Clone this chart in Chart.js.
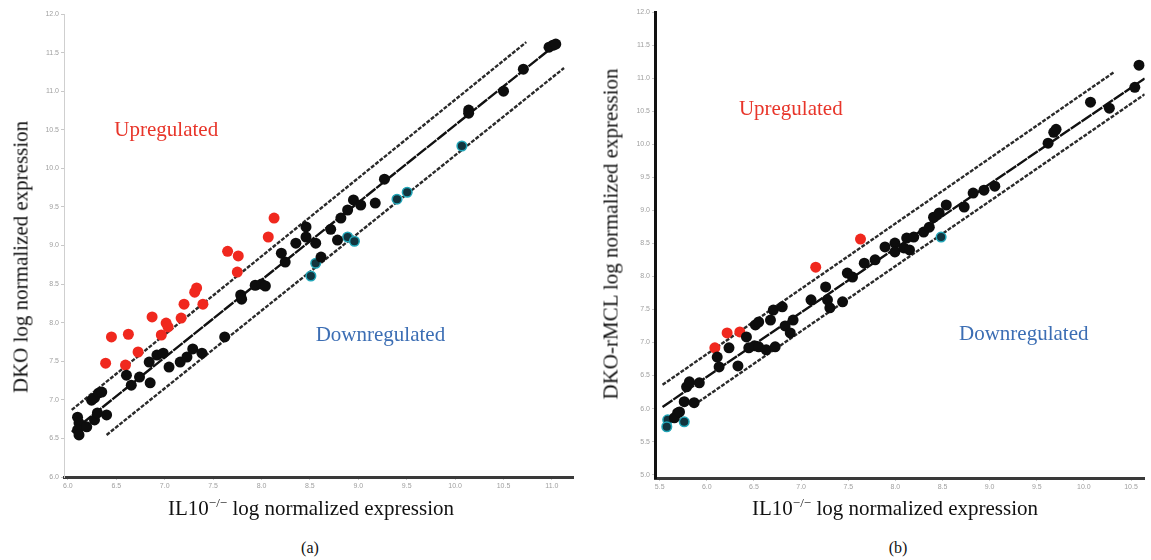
<!DOCTYPE html>
<html>
<head>
<meta charset="utf-8">
<script src="https://cdn.jsdelivr.net/npm/chart.js@4.4.0/dist/chart.umd.min.js"></script>
<style>
  html, body { margin: 0; padding: 0; background: #fff; }
  #wrap { position: relative; width: 1151px; height: 560px; overflow: hidden;
          font-family: "Liberation Serif", "DejaVu Serif", serif; color: #111; }
  canvas { position: absolute; top: 0; }
  .lbl { position: absolute; white-space: nowrap; font-size: 21px; transform: translate(-50%, -50%); }
  .ylbl { transform: translate(-50%, -50%) rotate(-90deg); }
  .cap { font-size: 16px; }
  sup { font-size: 13px; line-height: 0; }
</style>
</head>
<body>
<div id="wrap">
  <canvas id="chartA" width="580" height="500" style="left:0"></canvas>
  <canvas id="chartB" width="571" height="500" style="left:580px"></canvas>

  <div class="lbl ylbl" style="left:21px; top:257px">DKO log normalized expression</div>
  <div class="lbl" style="left:311px; top:508px">IL10<sup>−/−</sup> log normalized expression</div>
  <div class="lbl cap" style="left:310px; top:548px">(a)</div>

  <div class="lbl ylbl" style="left:611px; top:234px">DKO-rMCL log normalized expression</div>
  <div class="lbl" style="left:895px; top:508px">IL10<sup>−/−</sup> log normalized expression</div>
  <div class="lbl cap" style="left:898px; top:548px">(b)</div>
</div>

<script>
// ---------- panel (a) ----------
const xTicksA = ["6.0", "6.5", "7.0", "7.5", "8.0", "8.5", "9.0", "9.5", "10.0", "10.5", "11.0"];
const yTicksA = ["6.0", "6.5", "7.0", "7.5", "8.0", "8.5", "9.0", "9.5", "10.0", "10.5", "11.0", "11.5", "12.0"];

const upA = [
  [4.26, 6.71], [4.14, 6.22], [3.30, 5.85], [3.52, 5.73], [3.50, 5.31],
  [2.66, 4.90], [2.62, 4.79], [2.40, 4.48], [2.79, 4.48], [1.74, 4.15],
  [2.34, 4.12], [2.03, 3.99], [2.07, 3.89], [1.93, 3.68], [0.90, 3.63],
  [1.25, 3.70], [1.45, 3.24], [0.78, 2.95], [1.19, 2.90]
];
const downA = [
  [5.12, 5.54], [5.02, 5.21], [5.78, 6.22], [5.92, 6.11],
  [6.80, 7.20], [7.01, 7.38], [8.14, 8.58]
];
const sameA = [
  [0.20, 1.55], [0.23, 1.40], [0.20, 1.22], [0.23, 1.09], [0.39, 1.30],
  [0.55, 1.48], [0.61, 1.66], [0.80, 1.61], [0.49, 1.99], [0.55, 2.05],
  [0.64, 2.18], [0.70, 2.20], [1.21, 2.64], [1.31, 2.38], [1.48, 2.59],
  [1.70, 2.44], [1.68, 2.98], [1.84, 3.16], [1.97, 3.21], [2.09, 2.85],
  [2.32, 2.98], [2.46, 3.11], [2.58, 3.32], [2.77, 3.21], [3.24, 3.63],
  [3.57, 4.72], [3.59, 4.61], [3.87, 4.97], [4.00, 5.00], [4.08, 4.95],
  [4.49, 5.57], [4.41, 5.80], [4.71, 6.06], [4.92, 6.22], [4.92, 6.48],
  [5.12, 6.06], [5.23, 5.70], [5.43, 6.42], [5.64, 6.71], [5.78, 6.92],
  [5.90, 7.18], [6.05, 7.05], [6.35, 7.10], [6.54, 7.72], [5.57, 6.14],
  [8.28, 9.51], [8.28, 9.43], [9.00, 10.00], [9.41, 10.57],
  [10.02, 11.19], [9.94, 11.14], [10.08, 11.22]
];
const upperLineA = [[0.08, 1.74], [9.47, 11.27]];
const middleLineA = [[0.08, 1.17], [10.14, 11.27]];
const lowerLineA = [[0.80, 1.09], [10.25, 10.60]];

// ---------- panel (b) ----------
const xTicksB = ["5.5", "6.0", "6.5", "7.0", "7.5", "8.0", "8.5", "9.0", "9.5", "10.0", "10.5"];
const yTicksB = ["5.0", "5.5", "6.0", "6.5", "7.0", "7.5", "8.0", "8.5", "9.0", "9.5", "10.0", "10.5", "11.0", "11.5", "12.0"];

const upB = [[4.26, 7.13], [3.31, 6.28], [1.43, 4.29], [1.70, 4.32], [1.17, 3.84]];
const downB = [[0.17, 1.66], [0.15, 1.45], [0.52, 1.60], [5.97, 7.19]];
const sameB = [
  [0.38, 1.87], [0.31, 1.72], [0.42, 1.90], [0.52, 2.21], [0.73, 2.18],
  [0.57, 2.66], [0.63, 2.81], [0.84, 2.78], [1.22, 3.56], [1.26, 3.26],
  [1.47, 3.84], [1.66, 3.29], [1.84, 4.17], [1.89, 3.84], [2.01, 3.90],
  [2.10, 3.87], [2.26, 3.78], [2.03, 4.53], [2.10, 4.62], [2.35, 4.68],
  [2.41, 4.98], [2.60, 5.08], [2.45, 3.87], [2.66, 4.50], [2.77, 4.29],
  [2.83, 4.68], [3.21, 5.29], [3.52, 5.68], [3.56, 5.29], [3.61, 5.05],
  [3.88, 5.23], [3.98, 6.10], [4.09, 5.98], [4.34, 6.40], [4.57, 6.50],
  [4.78, 6.89], [4.99, 7.01], [4.99, 6.74], [5.18, 6.86], [5.24, 7.16],
  [5.30, 6.80], [5.39, 7.19], [5.60, 7.34], [5.72, 7.49], [5.81, 7.79],
  [5.93, 7.92], [6.08, 8.16], [6.46, 8.10], [6.65, 8.52], [6.88, 8.61],
  [7.11, 8.73], [8.24, 10.03], [8.36, 10.36], [8.41, 10.45], [9.14, 11.27],
  [9.54, 11.09], [10.17, 12.39], [10.08, 11.72]
];
const upperLineB = [[0.06, 2.72], [9.64, 12.18]];
const middleLineB = [[0.06, 2.05], [10.29, 11.99]];
const lowerLineB = [[0.73, 2.11], [10.29, 11.51]];

// text marks inside the plots, in data units
const notesA = [
  { text: "Upregulated", at: [0.96, 8.99], color: "#e8352a" },
  { text: "Downregulated", at: [5.12, 3.68], color: "#3c6eb4" }
];
const notesB = [
  { text: "Upregulated", at: [1.68, 11.06], color: "#e8352a" },
  { text: "Downregulated", at: [6.35, 4.23], color: "#3c6eb4" }
];

const toXY = arr => arr.map(p => ({ x: p[0], y: p[1] }));

const textMarks = {
  id: "textMarks",
  afterDatasetsDraw(chart, args, opts) {
    const { ctx, scales: { x, y } } = chart;
    ctx.save();
    ctx.font = '21px "Liberation Serif", "DejaVu Serif", serif';
    ctx.textBaseline = "middle";
    ctx.textAlign = "left";
    (opts.items || []).forEach(it => {
      ctx.fillStyle = it.color;
      ctx.fillText(it.text, x.getPixelForValue(it.at[0]), y.getPixelForValue(it.at[1]));
    });
    ctx.restore();
  }
};

function lineSet(pts, dash, color, w) {
  return {
    data: toXY(pts), showLine: true, pointRadius: 0,
    borderColor: color, borderWidth: w, borderDash: dash, order: 5
  };
}

function pointSet(pts, fill, edge, r) {
  return {
    data: toXY(pts), showLine: false, pointRadius: r, pointHoverRadius: r,
    backgroundColor: fill, borderColor: edge, borderWidth: edge ? 1.5 : 0, order: 1
  };
}

function makePanel(id, p) {
  new Chart(document.getElementById(id), {
    type: "scatter",
    data: {
      datasets: [
        lineSet(p.upper, [4, 1.5], "#2a2a2a", 2.4),
        lineSet(p.middle, [12, 1], "#111", 2.4),
        lineSet(p.lower, [4, 1.5], "#2a2a2a", 2.4),
        pointSet(p.same, "#0d0d0d", null, 5.5),
        pointSet(p.up, "#f0281e", null, 5.5),
        pointSet(p.down, "#12343e", "#22a6b8", 4.8)
      ]
    },
    options: {
      responsive: false,
      animation: false,
      devicePixelRatio: 1,
      layout: { padding: p.pad },
      plugins: {
        legend: { display: false },
        tooltip: { enabled: false },
        textMarks: { items: p.notes }
      },
      scales: {
        x: {
          type: "linear", min: p.xMin, max: p.xMax,
          afterFit(s) { s.height = 16; },
          afterBuildTicks(s) { s.ticks = p.xTicks.map((_, i) => ({ value: i })); },
          border: { display: true, color: "#3a3a3a", width: 3 },
          grid: { display: true, drawOnChartArea: false, tickLength: 3, color: "#c8c8c8" },
          ticks: {
            autoSkip: false, maxRotation: 0, padding: 2, color: "#a0a0a0", font: { size: 7 },
            callback: (v, i) => p.xTicks[i]
          }
        },
        y: {
          type: "linear", min: p.yMin, max: p.yMax,
          afterFit(s) { s.width = 20; },
          afterBuildTicks(s) { s.ticks = p.yTicks.map((_, i) => ({ value: i })); },
          border: { display: true, color: p.yAxisColor, width: p.yAxisWidth },
          grid: { display: true, drawOnChartArea: false, tickLength: 3, color: "#c8c8c8" },
          ticks: {
            autoSkip: false, padding: 2, color: "#a0a0a0", font: { size: 7 },
            callback: (v, i) => p.yTicks[i]
          }
        }
      }
    },
    plugins: [textMarks]
  });
}

makePanel("chartA", {
  up: upA, down: downA, same: sameA,
  upper: upperLineA, middle: middleLineA, lower: lowerLineA,
  xTicks: xTicksA, yTicks: yTicksA, notes: notesA,
  xMin: -0.08, xMax: 10.45, yMin: 0, yMax: 12,
  pad: { left: 44, top: 14, right: 2, bottom: 7 },
  yAxisColor: "#cfcfcf", yAxisWidth: 1
});

makePanel("chartB", {
  up: upB, down: downB, same: sameB,
  upper: upperLineB, middle: middleLineB, lower: lowerLineB,
  xTicks: xTicksB, yTicks: yTicksB, notes: notesB,
  xMin: -0.1, xMax: 10.29, yMin: -0.1, yMax: 14,
  pad: { left: 55, top: 12, right: 0, bottom: 6 },
  yAxisColor: "#111", yAxisWidth: 3
});
</script>
</body>
</html>
